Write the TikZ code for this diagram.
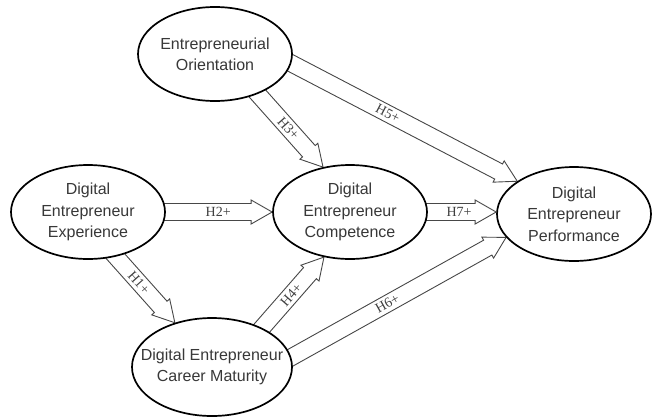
\documentclass[tikz,border=0pt]{standalone}
\usepackage{fontspec}
\setmainfont{Liberation Sans}
\newfontfamily\lblfont{Liberation Serif}
\usetikzlibrary{shapes.geometric,calc}
\pgfdeclarelayer{bg}
\pgfsetlayers{bg,main}
\tikzset{
  ell/.style={ellipse, draw=black, line width=1.7pt, fill=white, inner sep=0pt,
              minimum width=154pt, minimum height=94pt},
  ntext/.style={align=center, font=\fontsize{16}{21.3}\selectfont, text=black!78, inner sep=0pt},
  harrow/.style={draw=black!72, line width=0.9pt, fill=white, line join=miter},
  hlabel/.style={font=\lblfont\fontsize{14}{14}\selectfont, text=black!75, inner sep=0pt},
}
% #1 from, #2 to, #3 label text, #4 label position, #5 label node name
\newcommand\hyparrow[5]{%
  \begin{pgfonlayer}{bg}
  \draw[harrow] let \p1=($(#1)!-6pt!(#2)$), \p2=(#2),
      \n1={atan2(\y2-\y1,\x2-\x1)}, \n2={veclen(\x2-\x1,\y2-\y1)}, \n3={\n2-21pt}
    in ($(\p1)+(\n1+90:8.5pt)$)
    -- ($(\p1)+(\n1:\n3)+(\n1+90:8.5pt)$)
    -- ($(\p1)+(\n1:\n3)+(\n1+90:12pt)$)
    -- (\p2)
    -- ($(\p1)+(\n1:\n3)+(\n1-90:12pt)$)
    -- ($(\p1)+(\n1:\n3)+(\n1-90:8.5pt)$)
    -- ($(\p1)+(\n1-90:8.5pt)$)
    ($(\p1)!#4!(\p2)$) node[hlabel, rotate=\n1] (#5) {#3};
  \end{pgfonlayer}%
}
\begin{document}
\begin{tikzpicture}[x=1pt,y=-1pt]
\useasboundingbox (0,0) rectangle (652,418);
\node[ell] (eo) at (215,54) {};
\node[ell] (exp) at (88,212) {};
\node[ell] (dc) at (350,212) {};
\node[ell] (dp) at (574,214) {};
\node[ell, minimum width=160pt, minimum height=98pt] (cm) at (212,367) {};

\node[ntext] (eo-t) at (eo) {Entrepreneurial\\Orientation};
\node[ntext] (exp-t) at (exp) {Digital\\Entrepreneur\\Experience};
\node[ntext] (dc-t) at (dc) {Digital\\Entrepreneur\\Competence};
\node[ntext] (dp-t) at (dp) {Digital\\Entrepreneur\\Performance};
\node[ntext] (cm-t) at (cm) {Digital Entrepreneur\\Career Maturity};

\hyparrow{exp.east}{dc.west}{H2+}{0.52}{h2}
\hyparrow{dc.east}{dc.east -| dp.west}{H7+}{0.5}{h7}
\hyparrow{eo.-43}{dc.121}{H3+}{0.5}{h3}
\hyparrow{eo.-7}{dp.150}{H5+}{0.44}{h5}
\hyparrow{exp.-58}{cm.130}{H1+}{0.43}{h1}
\hyparrow{cm.38}{dc.240}{H4+}{0.5}{h4}
\hyparrow{cm.7}{dp.199}{H6+}{0.46}{h6}
\end{tikzpicture}
\end{document}
